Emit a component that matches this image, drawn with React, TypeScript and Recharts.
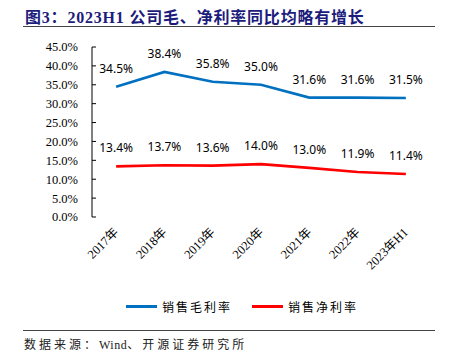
import React from "react";
import {
  ComposedChart,
  Line,
  XAxis,
  YAxis,
  LabelList,
} from "recharts";

const categories = ["2017年", "2018年", "2019年", "2020年", "2021年", "2022年", "2023年H1"];
const grossMargin = [34.5, 38.4, 35.8, 35.0, 31.6, 31.6, 31.5];
const netMargin = [13.4, 13.7, 13.6, 14.0, 13.0, 11.9, 11.4];
const yTicks = [0, 5, 10, 15, 20, 25, 30, 35, 40, 45];

const series = [
  { key: "gross", name: "销售毛利率", color: "#0070C0" },
  { key: "net", name: "销售净利率", color: "#FF0000" },
];

// category i sits in the middle of slot [i, i+1]
const data = categories.map((name, i) => ({
  name,
  pos: i + 0.5,
  gross: grossMargin[i],
  net: netMargin[i],
}));
const boundaryTicks = [...categories.map((_, i) => i), categories.length];
const centerTicks = data.map((d) => d.pos);

const SERIF = '"Liberation Serif", "Times New Roman", "Noto Sans CJK SC", serif';
const CJK = '"Noto Sans CJK SC", "Liberation Serif", sans-serif';
const LABEL_FONT = '"Noto Sans", "Liberation Sans", sans-serif';

const pct = (v: number) => `${v.toFixed(1)}%`;

const CategoryTick = ({ x, y, payload }: any) => (
  <g transform={`translate(${x + 3},${y + 16})`}>
    <text
      textAnchor="end"
      transform="rotate(-45)"
      fontSize={12.5}
      fontFamily={SERIF}
      fill="#000"
    >
      {categories[Math.floor(payload.value)]}
    </text>
  </g>
);

export default function App() {
  return (
    <div
      style={{
        position: "absolute",
        left: 0,
        top: 0,
        width: 452,
        height: 361,
        background: "#fff",
        overflow: "hidden",
      }}
    >
      {/* Title */}
      <div
        style={{
          position: "absolute",
          left: 25,
          top: 4,
          fontFamily: SERIF,
          fontWeight: "bold",
          fontSize: 16,
          letterSpacing: 0.8,
          color: "#1C1C7C",
          whiteSpace: "nowrap",
        }}
      >
        图3：2023H1 公司毛、净利率同比均略有增长
      </div>
      <div
        style={{
          position: "absolute",
          left: 23,
          top: 26,
          width: 412,
          height: 0,
          borderTop: "1.5px solid #444",
        }}
      />

      <div style={{ position: "absolute", left: 0, top: 0 }}>
        <ComposedChart
          width={452}
          height={300}
          data={data}
          margin={{ top: 47, right: 22, left: 32, bottom: 13 }}
        >
          <XAxis
            xAxisId="grid"
            type="number"
            dataKey="pos"
            domain={[0, categories.length]}
            ticks={boundaryTicks}
            height={0}
            tick={false}
            tickSize={-4}
            stroke="#8C8C8C"
            allowDataOverflow
          />
          <XAxis
            xAxisId="cat"
            type="number"
            dataKey="pos"
            domain={[0, categories.length]}
            ticks={centerTicks}
            height={70}
            axisLine={false}
            tickLine={false}
            tickSize={0}
            tickMargin={0}
            interval={0}
            tick={<CategoryTick />}
            allowDataOverflow
          />
          <YAxis
            domain={[0, 45]}
            ticks={yTicks}
            width={60}
            tickSize={-4}
            tickMargin={18}
            tickFormatter={pct}
            stroke="#000"
            tick={{ fill: "#000", fontSize: 12.5, fontFamily: SERIF }}
            interval={0}
          />
          {series.map((s) => (
            <Line
              key={s.key}
              xAxisId="grid"
              dataKey={s.key}
              name={s.name}
              type="linear"
              stroke={s.color}
              strokeWidth={2.6}
              dot={false}
              isAnimationActive={false}
            >
              <LabelList
                dataKey={s.key}
                position="top"
                offset={14}
                formatter={(v: any) => pct(Number(v))}
                fill="#000"
                fontSize={12}
                fontFamily={LABEL_FONT}
              />
            </Line>
          ))}
        </ComposedChart>
      </div>

      {/* Legend */}
      <div
        style={{
          position: "absolute",
          left: 126,
          top: 298,
          display: "flex",
          alignItems: "center",
          fontFamily: CJK,
          fontSize: 12,
          letterSpacing: 2,
          color: "#000",
          whiteSpace: "nowrap",
        }}
      >
        {series.map((s, i) => (
          <div
            key={s.key}
            style={{
              display: "flex",
              alignItems: "center",
              marginRight: i === 0 ? 20 : 0,
            }}
          >
            <div
              style={{ width: 31, height: 3, background: s.color, marginRight: 5 }}
            />
            <span>{s.name}</span>
          </div>
        ))}
      </div>

      {/* Source */}
      <div
        style={{
          position: "absolute",
          left: 23,
          top: 330,
          width: 412,
          height: 0,
          borderTop: "1.5px solid #444",
        }}
      />
      <div
        style={{
          position: "absolute",
          left: 24,
          top: 335,
          fontFamily: CJK,
          fontSize: 12,
          letterSpacing: 3,
          color: "#222",
          whiteSpace: "nowrap",
        }}
      >
        数据来源：<span style={{ fontFamily: SERIF, letterSpacing: 0.5 }}>Wind</span>、开源证券研究所
      </div>
    </div>
  );
}
